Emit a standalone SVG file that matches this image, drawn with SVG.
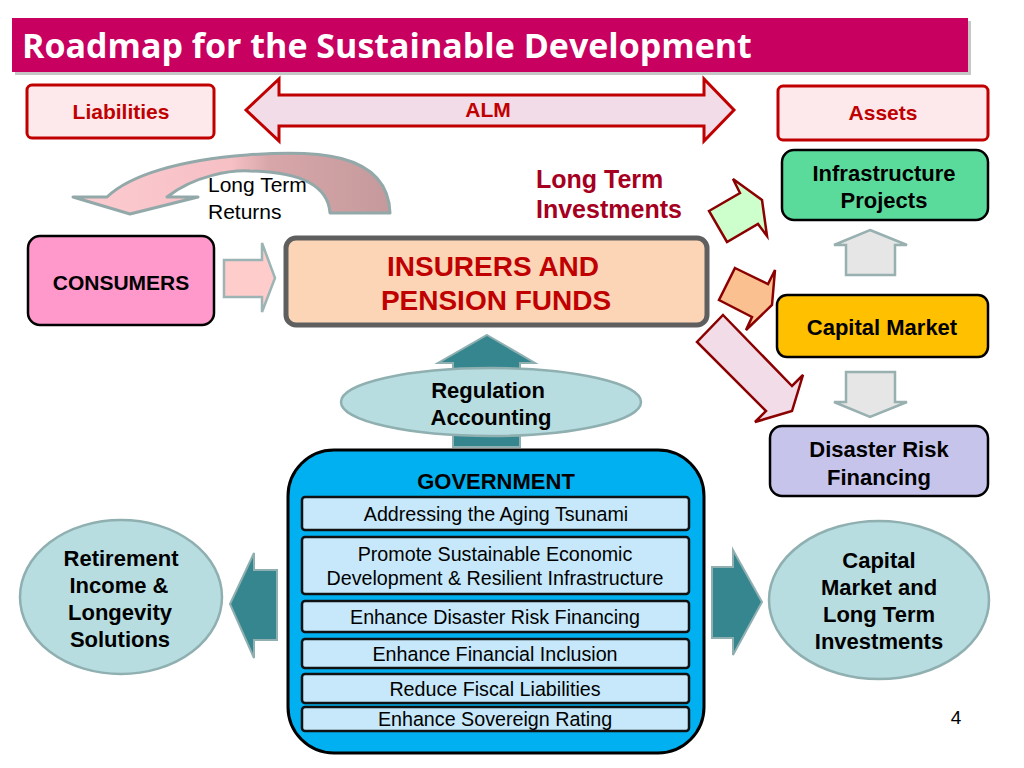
<svg xmlns="http://www.w3.org/2000/svg" width="1024" height="768" viewBox="0 0 1024 768">
<defs>
<linearGradient id="curveGrad" x1="0" y1="0" x2="1" y2="0">
<stop offset="0" stop-color="#FCCBD0"/>
<stop offset="0.5" stop-color="#F6C0C5"/>
<stop offset="0.62" stop-color="#D7A6A9"/>
<stop offset="1" stop-color="#C59A9C"/>
</linearGradient>
<style>
.b{font-family:"Liberation Sans",Arial,sans-serif;font-weight:bold;text-anchor:middle}
.r{font-family:"Liberation Sans",Arial,sans-serif;text-anchor:middle}
.red{fill:#C00000}
.redbox{fill:#FDE9EC;stroke:#C00000;stroke-width:3}
.node{stroke:#000;stroke-width:2.5}
.tealOut{fill:#B7DDE0;stroke:#8FAFB0;stroke-width:2.5}
.tealArrow{fill:#35868F;stroke:#8FAFB0;stroke-width:2}
.grayArrow{fill:#E6E6E6;stroke:#98B0B0;stroke-width:2.5}
.redArrow{stroke:#8B0000;stroke-width:2.5;stroke-linejoin:miter}
.item{fill:#C6E8FA;stroke:#111;stroke-width:2.5}
</style>
</defs>
<rect width="1024" height="768" fill="#fff"/>

<g id="title">
<rect x="15" y="21" width="956" height="54" fill="#A0A0A0" opacity="0.6"/>
<rect x="12" y="18" width="956" height="54" fill="#C8005F"/>
<text x="22" y="58" font-family="'Open Sans','DejaVu Sans',sans-serif" font-weight="bold" font-size="34" fill="#fff">Roadmap for the Sustainable Development</text>
</g>

<g id="liabilities">
<rect class="redbox" x="27" y="85" width="187" height="53" rx="5"/>
<text class="b red" x="121" y="119" font-size="21">Liabilities</text>
</g>
<g id="assets">
<rect class="redbox" x="778" y="86" width="210" height="54" rx="5"/>
<text class="b red" x="883" y="120" font-size="21">Assets</text>
</g>

<g id="consumers">
<rect class="node" x="28" y="236" width="186" height="89" rx="12" fill="#FF99CC"/>
<text class="b" x="121" y="290" font-size="21">CONSUMERS</text>
</g>

<g id="insurers">
<rect x="286" y="238" width="421" height="87" rx="10" fill="#FBD5B5" stroke="#5F5F5F" stroke-width="5"/>
<text class="b red" x="493" y="276" font-size="28">INSURERS AND</text>
<text class="b red" x="496" y="310" font-size="28">PENSION FUNDS</text>
</g>

<g id="infrastructure">
<rect class="node" x="782" y="150" width="206" height="70" rx="12" fill="#5BDB9B"/>
<text class="b" x="884" y="181" font-size="22">Infrastructure</text>
<text class="b" x="884" y="208" font-size="22">Projects</text>
</g>

<g id="capital-market">
<rect class="node" x="777" y="295" width="211" height="62" rx="10" fill="#FFC000"/>
<text class="b" x="882" y="335" font-size="22">Capital Market</text>
</g>

<g id="disaster">
<rect class="node" x="770" y="426" width="218" height="70" rx="12" fill="#C7C4EC"/>
<text class="b" x="879" y="457" font-size="22">Disaster Risk</text>
<text class="b" x="879" y="485" font-size="22">Financing</text>
</g>

<g id="connectors">
<!-- ALM double arrow -->
<path d="M246,110 L279,79 L279,95 L704,95 L704,79 L734,110 L704,141 L704,126 L279,126 L279,141 Z" fill="#F1DCE7" stroke="#C00000" stroke-width="3" stroke-linejoin="miter"/>
<text class="b red" x="488" y="117" font-size="21">ALM</text>
<!-- Long term returns curved arrow -->
<path d="M330,213 L390,213 C388,150 310,150 247,155 C180,160 130,175 107,197 L73,197 L130,214 L198,197 L167,197 C195,175 232,170 250,171 C300,172 328,185 330,213 Z" fill="url(#curveGrad)" stroke="#93A9A9" stroke-width="3" stroke-linejoin="round"/>
<!-- consumers to insurers -->
<path d="M224,260 L262,260 L262,243 L275,278 L262,312 L262,297 L224,297 Z" fill="#FFCCCC" stroke="#9CB4B4" stroke-width="2.5"/>
<!-- green arrow to infrastructure -->
<path class="redArrow" d="M709,211 L740,193 L733,179 L762,200 L767,236 L758,224 L727,242 Z" fill="#CCFFCC"/>
<!-- orange arrow to capital market -->
<path class="redArrow" d="M735,268 L768,284 L775,270 L772,305 L746,330 L752,317 L719,300 Z" fill="#FAC090"/>
<!-- pink arrow to disaster -->
<path class="redArrow" d="M723,315 L792,386 L803,375 L792,411 L755,422 L766,411 L697,342 Z" fill="#F1DCE7"/>
<!-- gray arrows -->
<path class="grayArrow" d="M870,230 L907,245 L895,245 L895,275 L846,275 L846,245 L834,245 Z"/>
<path class="grayArrow" d="M846,372 L895,372 L895,402 L907,402 L870,417 L834,402 L846,402 Z"/>
<!-- teal up arrow -->
<path class="tealArrow" d="M487,335 L535,363 L520,363 L520,447 L453,447 L453,363 L438,363 Z"/>
<!-- teal left and right arrows -->
<path class="tealArrow" d="M230,604 L254,553 L254,570 L277,570 L277,640 L254,640 L254,658 Z"/>
<path class="tealArrow" d="M712,567 L733,567 L733,550 L762,602 L733,655 L733,638 L712,638 Z"/>
</g>

<g id="regulation">
<ellipse class="tealOut" cx="491" cy="402" rx="150" ry="34"/>
<text class="b" x="488" y="398" font-size="22">Regulation</text>
<text class="b" x="491" y="425" font-size="22">Accounting</text>
</g>

<g id="retirement">
<ellipse class="tealOut" cx="121" cy="597" rx="101" ry="77"/>
<text class="b" x="121" y="566" font-size="22">Retirement</text>
<text class="b" x="119" y="593" font-size="22">Income &amp;</text>
<text class="b" x="120" y="620" font-size="22">Longevity</text>
<text class="b" x="120" y="647" font-size="22">Solutions</text>
</g>

<g id="capital-investments">
<ellipse class="tealOut" cx="879" cy="600" rx="110" ry="79"/>
<text class="b" x="879" y="568" font-size="22">Capital</text>
<text class="b" x="879" y="595" font-size="22">Market and</text>
<text class="b" x="879" y="622" font-size="22">Long Term</text>
<text class="b" x="879" y="649" font-size="22">Investments</text>
</g>

<g id="government">
<rect x="288" y="450" width="416" height="303" rx="46" fill="#00B0F0" stroke="#000" stroke-width="3"/>
<text class="b" x="496" y="489" font-size="22">GOVERNMENT</text>
<rect class="item" x="302" y="497" width="387" height="33" rx="3"/>
<text class="r" x="496" y="521" font-size="19.7">Addressing the Aging Tsunami</text>
<rect class="item" x="302" y="537" width="387" height="57" rx="3"/>
<text class="r" x="495" y="561" font-size="19.7">Promote Sustainable Economic</text>
<text class="r" x="495" y="585" font-size="19.7">Development &amp; Resilient Infrastructure</text>
<rect class="item" x="302" y="601" width="387" height="31" rx="3"/>
<text class="r" x="495" y="624" font-size="19.7">Enhance Disaster Risk Financing</text>
<rect class="item" x="302" y="639" width="387" height="29" rx="3"/>
<text class="r" x="495" y="661" font-size="19.7">Enhance Financial Inclusion</text>
<rect class="item" x="302" y="674" width="387" height="29" rx="3"/>
<text class="r" x="495" y="696" font-size="19.7">Reduce Fiscal Liabilities</text>
<rect class="item" x="302" y="707" width="387" height="24" rx="3"/>
<text class="r" x="495" y="726" font-size="19.7">Enhance Sovereign Rating</text>
</g>

<g id="labels">
<text x="208" y="192" font-family="'Liberation Sans',Arial,sans-serif" font-size="21">Long Term</text>
<text x="208" y="219" font-family="'Liberation Sans',Arial,sans-serif" font-size="21">Returns</text>
<text x="536" y="188" font-family="'Liberation Sans',Arial,sans-serif" font-weight="bold" font-size="25" fill="#A50021">Long Term</text>
<text x="536" y="218" font-family="'Liberation Sans',Arial,sans-serif" font-weight="bold" font-size="25" fill="#A50021">Investments</text>
<text x="956" y="724" class="r" font-size="19">4</text>
</g>
</svg>
